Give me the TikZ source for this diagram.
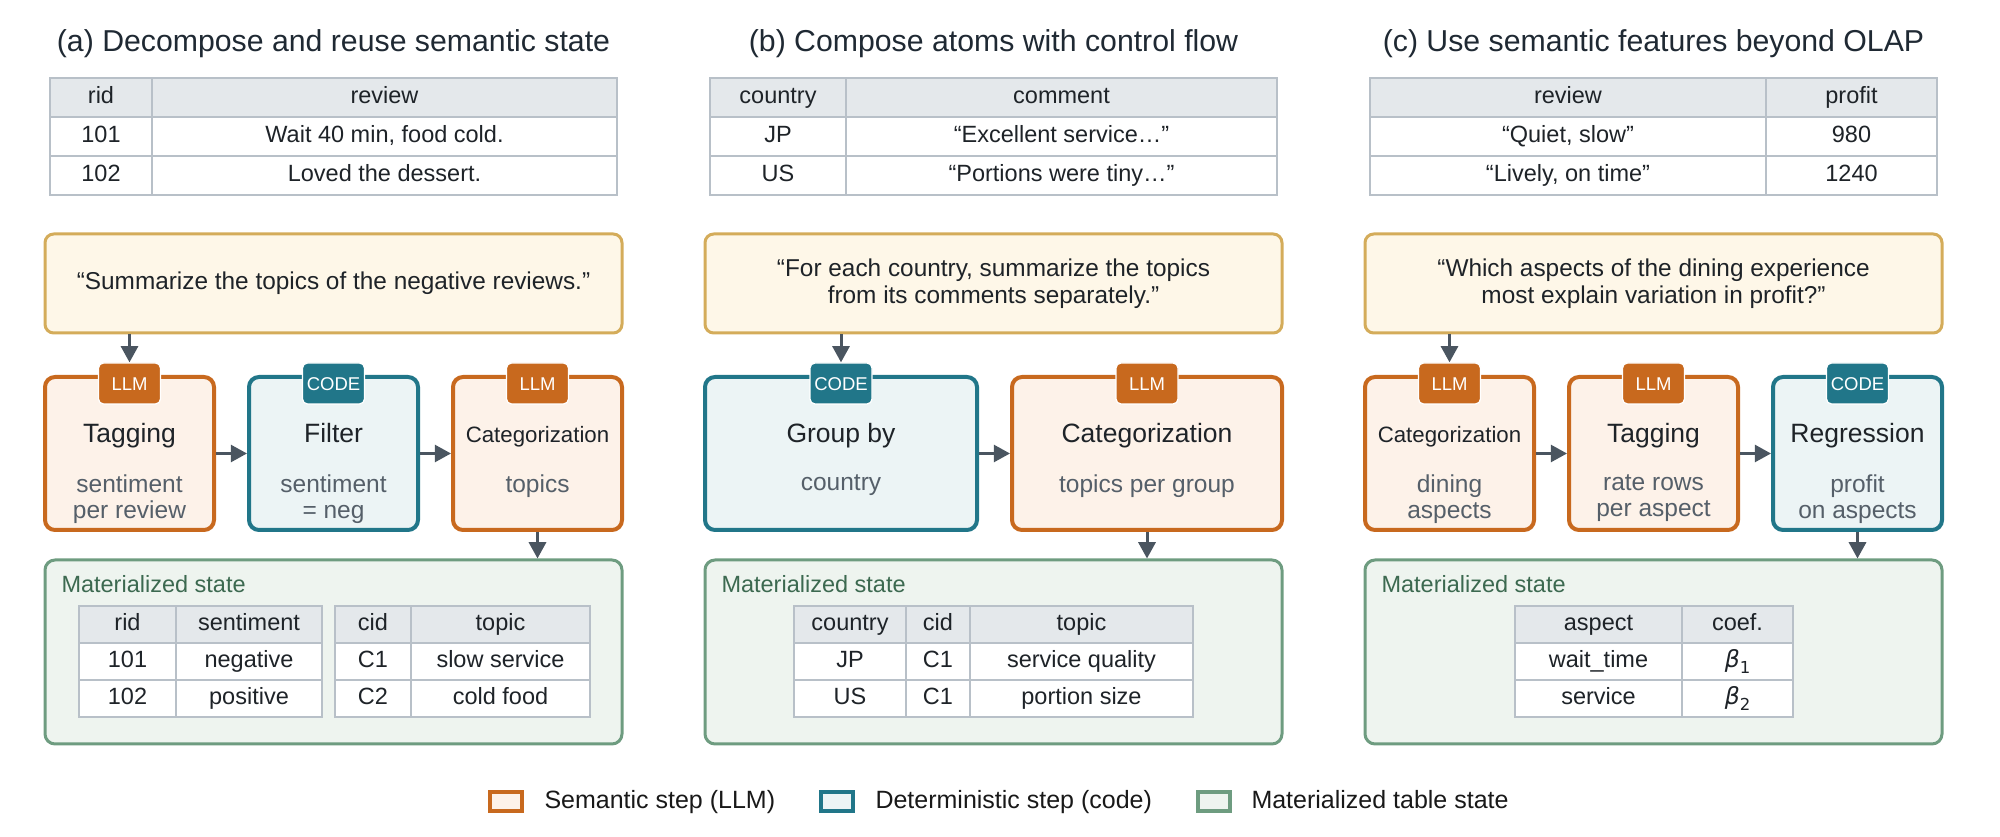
\documentclass[tikz,border=0pt]{standalone}
\usepackage{fontspec}
\setmainfont{Liberation Sans}
\newfontfamily\dvsans{DejaVu Sans}
\usetikzlibrary{arrows.meta}
\definecolor{llmS}{HTML}{C8691E}
\definecolor{llmF}{HTML}{FDF2E9}
\definecolor{codeS}{HTML}{217689}
\definecolor{codeF}{HTML}{ECF4F5}
\definecolor{matS}{HTML}{6E9C80}
\definecolor{matF}{HTML}{EEF4EF}
\definecolor{matT}{HTML}{3C6950}
\definecolor{qS}{HTML}{D4AC5A}
\definecolor{qF}{HTML}{FEF7E8}
\definecolor{hdF}{HTML}{E4E8EB}
\definecolor{tbS}{HTML}{B8C0C8}
\definecolor{arrC}{HTML}{4A5560}
\definecolor{ttlC}{HTML}{1F2933}
\definecolor{subC}{HTML}{555F69}
\definecolor{txtC}{HTML}{1E2328}

\newcommand\mkcell[7]{\node[tcell,fill=#6,minimum width={(#4-#2)*0.4pt},minimum height={(#5-#3)*0.4pt}] (#1) at ({(#2+#4)/2},{(#3+#5)/2}) {#7};}
\newcommand\rowtwo[9]{\mkcell{#1a}{#5}{#2}{#6}{#3}{#4}{#8}\mkcell{#1b}{#6}{#2}{#7}{#3}{#4}{#9}}
\newcommand\mkstep[7]{%
 \node[#2box, minimum width={(#4-#3)*0.4pt}, minimum height={153*0.4pt}] (#1) at ({(#3+#4)/2},453.5) {};
 \node[#5] (#1t) at ({(#3+#4)/2},443) {#6};
 \node[stepsub] (#1s) at ({(#3+#4)/2},474) {#7};
 \node[#2badge] (#1b) at ({(#3+#4)/2},383.5) {\uppercase{#2}};
}
\newcommand\betacoef[1]{{\dvsans\itshape β}\raisebox{-2.2pt}{\dvsans\fontsize{6.6pt}{7pt}\selectfont #1}}

\tikzset{
 tcell/.style={draw=tbS, line width=1pt, inner sep=0pt, text=txtC, font=\fontsize{9.4pt}{11pt}\selectfont, text height=6.8pt, text depth=1.9pt},
 qbox/.style={draw=qS, fill=qF, line width=1.2pt, rounded corners=3.5pt, align=center, text=txtC, font=\fontsize{9.75pt}{10.8pt}\selectfont, inner sep=0pt},
 llmbox/.style={draw=llmS, fill=llmF, line width=1.6pt, rounded corners=4pt, inner sep=0pt},
 codebox/.style={draw=codeS, fill=codeF, line width=1.6pt, rounded corners=4pt, inner sep=0pt},
 badgebase/.style={draw=white, line width=0.5pt, rounded corners=2pt, text=white, font=\fontsize{7.4pt}{8pt}\selectfont, minimum width={62*0.4pt}, minimum height={41*0.4pt}, inner sep=0pt, text height=5.3pt, text depth=0pt},
 llmbadge/.style={badgebase, fill=llmS},
 codebadge/.style={badgebase, fill=codeS},
 steptitle/.style={anchor=base, text=txtC, font=\fontsize{10.6pt}{12pt}\selectfont, inner sep=0pt},
 steptitlesm/.style={steptitle, font=\fontsize{8.9pt}{10pt}\selectfont},
 stepsub/.style={anchor=north, align=center, text=subC, font=\fontsize{9.8pt}{10.4pt}\selectfont, inner sep=0pt},
 matbox/.style={draw=matS, fill=matF, line width=1.2pt, rounded corners=4pt, inner sep=0pt},
 matlabel/.style={anchor=base west, text=matT, font=\fontsize{9.4pt}{11pt}\selectfont, inner sep=0pt},
 ptitle/.style={anchor=base, text=ttlC, font=\fontsize{12.1pt}{14pt}\selectfont, inner sep=0pt},
 arr/.style={draw=arrC, line width=1.2pt, -{Triangle[length=6.5pt,width=6.8pt]}},
 legbox/.style={line width=1.6pt, minimum width={32*0.4pt}, minimum height={19*0.4pt}, inner sep=0pt},
 legtext/.style={anchor=base west, text=black!90, font=\fontsize{10pt}{12pt}\selectfont, inner sep=0pt},
}

\begin{document}
\begin{tikzpicture}[x=0.4pt,y=-0.4pt]
\useasboundingbox (0,0) rectangle (2000,837);

% ---------------- Panel (a)
\node[ptitle] (ta) at (333.5,52) {(a) Decompose and reuse semantic state};
\rowtwo{ra0}{78}{117}{hdF}{50}{152}{617}{rid}{review}
\rowtwo{ra1}{117}{156}{white}{50}{152}{617}{101}{Wait 40 min, food cold.}
\rowtwo{ra2}{156}{195}{white}{50}{152}{617}{102}{Loved the dessert.}
\node[qbox, minimum width={577*0.4pt}, minimum height={99*0.4pt}] (qa) at (333.5,283.5) {“Summarize the topics of the negative reviews.”};
\mkstep{a1}{llm}{45}{214}{steptitle}{Tagging}{sentiment\\per review}
\mkstep{a2}{code}{249}{418}{steptitle}{Filter}{sentiment\\= neg}
\mkstep{a3}{llm}{453}{622}{steptitlesm}{Categorization}{topics}
\node[matbox, minimum width={577*0.4pt}, minimum height={184*0.4pt}] (sa) at (333.5,652) {};
\node[matlabel] (la) at (61,593) {Materialized state};
\rowtwo{sa0}{606}{643}{hdF}{79}{176}{322}{rid}{sentiment}
\rowtwo{sa1}{643}{680}{white}{79}{176}{322}{101}{negative}
\rowtwo{sa2}{680}{717}{white}{79}{176}{322}{102}{positive}
\rowtwo{sb0}{606}{643}{hdF}{335}{411}{590}{cid}{topic}
\rowtwo{sb1}{643}{680}{white}{335}{411}{590}{C1}{slow service}
\rowtwo{sb2}{680}{717}{white}{335}{411}{590}{C2}{cold food}
\draw[arr] (qa.south -| a1b) -- (a1b.north);
\draw[arr] (a1.east) -- (a2.west);
\draw[arr] (a2.east) -- (a3.west);
\draw[arr] (a3.south) -- (sa.north -| a3.south);

% ---------------- Panel (b)
\node[ptitle] (tb) at (993.5,52) {(b) Compose atoms with control flow};
\rowtwo{rb0}{78}{117}{hdF}{710}{846}{1277}{country}{comment}
\rowtwo{rb1}{117}{156}{white}{710}{846}{1277}{JP}{“Excellent service…”}
\rowtwo{rb2}{156}{195}{white}{710}{846}{1277}{US}{“Portions were tiny…”}
\node[qbox, minimum width={577*0.4pt}, minimum height={99*0.4pt}] (qb) at (993.5,283.5) {“For each country, summarize the topics\\from its comments separately.”};
\mkstep{b1}{code}{705}{977}{steptitle}{Group by}{country}
\mkstep{b2}{llm}{1012}{1282}{steptitle}{Categorization}{topics per group}
\node[matbox, minimum width={577*0.4pt}, minimum height={184*0.4pt}] (sb) at (993.5,652) {};
\node[matlabel] (lb) at (721,593) {Materialized state};
\mkcell{sc0a}{794}{606}{906}{643}{hdF}{country}
\mkcell{sc0b}{906}{606}{970}{643}{hdF}{cid}
\mkcell{sc0c}{970}{606}{1193}{643}{hdF}{topic}
\mkcell{sc1a}{794}{643}{906}{680}{white}{JP}
\mkcell{sc1b}{906}{643}{970}{680}{white}{C1}
\mkcell{sc1c}{970}{643}{1193}{680}{white}{service quality}
\mkcell{sc2a}{794}{680}{906}{717}{white}{US}
\mkcell{sc2b}{906}{680}{970}{717}{white}{C1}
\mkcell{sc2c}{970}{680}{1193}{717}{white}{portion size}
\draw[arr] (qb.south -| b1b) -- (b1b.north);
\draw[arr] (b1.east) -- (b2.west);
\draw[arr] (b2.south) -- (sb.north -| b2.south);

% ---------------- Panel (c)
\node[ptitle] (tc) at (1653.5,52) {(c) Use semantic features beyond OLAP};
\rowtwo{rc0}{78}{117}{hdF}{1370}{1766}{1937}{review}{profit}
\rowtwo{rc1}{117}{156}{white}{1370}{1766}{1937}{“Quiet, slow”}{980}
\rowtwo{rc2}{156}{195}{white}{1370}{1766}{1937}{“Lively, on time”}{1240}
\node[qbox, minimum width={577*0.4pt}, minimum height={99*0.4pt}] (qc) at (1653.5,283.5) {“Which aspects of the dining experience\\most explain variation in profit?”};
\mkstep{c1}{llm}{1365}{1534}{steptitlesm}{Categorization}{dining\\aspects}
\mkstep{c2}{llm}{1569}{1738}{steptitle}{Tagging}{rate rows\\per aspect}
\mkstep{c3}{code}{1773}{1942}{steptitle}{Regression}{profit\\on aspects}
\node[matbox, minimum width={577*0.4pt}, minimum height={184*0.4pt}] (sc) at (1653.5,652) {};
\node[matlabel] (lc) at (1381,593) {Materialized state};
\rowtwo{sd0}{606}{643}{hdF}{1515}{1682}{1793}{aspect}{coef.}
\rowtwo{sd1}{643}{680}{white}{1515}{1682}{1793}{wait\_time}{\betacoef{1}}
\rowtwo{sd2}{680}{717}{white}{1515}{1682}{1793}{service}{\betacoef{2}}
\draw[arr] (qc.south -| c1b) -- (c1b.north);
\draw[arr] (c1.east) -- (c2.west);
\draw[arr] (c2.east) -- (c3.west);
\draw[arr] (c3.south) -- (sc.north -| c3.south);

% ---------------- Legend
\node[legbox, draw=llmS, fill=llmF] (k1) at (506,801.5) {};
\node[legtext] (k1t) at (544,809) {Semantic step (LLM)};
\node[legbox, draw=codeS, fill=codeF] (k2) at (837,801.5) {};
\node[legtext] (k2t) at (875,809) {Deterministic step (code)};
\node[legbox, draw=matS, fill=matF] (k3) at (1214,801.5) {};
\node[legtext] (k3t) at (1251,809) {Materialized table state};
\end{tikzpicture}
\end{document}
